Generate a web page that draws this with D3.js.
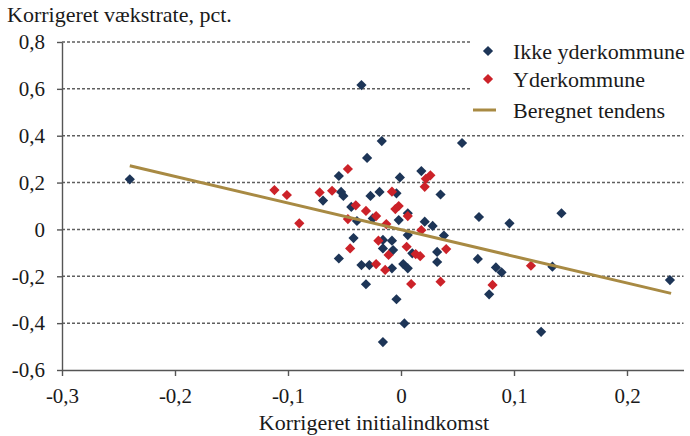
<!DOCTYPE html>
<html>
<head>
<meta charset="utf-8">
<script src="https://cdn.jsdelivr.net/npm/d3@7"></script>
<style>
  body { margin: 0; background: #fff; }
  text { font-family: "Liberation Serif", "Times New Roman", serif; fill: #1a1a1a; }
</style>
</head>
<body>
<div id="chart"></div>
<script>
// data: [initialindkomst, vækstrate]
var ikkeYder = [
  [-0.240, 0.214], [-0.035, 0.616], [-0.017, 0.377], [0.054, 0.369], [-0.030, 0.305],
  [-0.055, 0.228], [0.018, 0.249], [-0.001, 0.222], [-0.053, 0.160], [-0.051, 0.143],
  [-0.069, 0.123], [-0.027, 0.143], [-0.019, 0.160], [-0.004, 0.154], [0.035, 0.149],
  [-0.044, 0.096], [-0.039, 0.036], [-0.025, 0.047], [-0.002, 0.040], [0.006, 0.069],
  [0.021, 0.033], [0.028, 0.015], [0.006, -0.024], [0.038, -0.026], [-0.042, -0.037],
  [-0.008, -0.048], [-0.016, -0.081], [-0.007, -0.088], [0.010, -0.102], [0.032, -0.096],
  [0.032, -0.139], [-0.055, -0.124], [-0.035, -0.152], [-0.028, -0.152], [-0.008, -0.166],
  [0.002, -0.148], [0.006, -0.166], [-0.031, -0.234], [-0.004, -0.298], [0.003, -0.401],
  [-0.016, -0.481], [0.069, 0.053], [0.096, 0.026], [0.142, 0.069], [0.068, -0.126],
  [0.084, -0.162], [0.089, -0.183], [0.134, -0.159], [0.078, -0.277], [0.124, -0.437],
  [0.238, -0.216], [-0.016, -0.045]
];

var yder = [
  [-0.112, 0.168], [-0.101, 0.147], [-0.090, 0.026], [-0.047, 0.258], [0.026, 0.231],
  [0.022, 0.216], [0.021, 0.182], [-0.072, 0.158], [-0.061, 0.165], [-0.008, 0.161],
  [-0.040, 0.103], [-0.031, 0.079], [-0.005, 0.087], [-0.002, 0.100], [0.006, 0.057],
  [-0.022, 0.057], [-0.047, 0.044], [-0.013, 0.023], [0.018, -0.003], [-0.045, -0.081],
  [-0.020, -0.048], [0.005, -0.074], [-0.011, -0.109], [0.013, -0.105], [0.017, -0.114],
  [0.040, -0.084], [-0.022, -0.148], [-0.014, -0.173], [0.009, -0.233], [0.035, -0.223],
  [0.115, -0.155], [0.081, -0.237]
];

var tendens = [[-0.240, 0.272], [0.239, -0.273]];

var xTicks = [-0.3, -0.2, -0.1, 0, 0.1, 0.2];
var yTicks = [-0.6, -0.4, -0.2, 0, 0.2, 0.4, 0.6, 0.8];
var seriesNames = ["Ikke yderkommune", "Yderkommune", "Beregnet tendens"];

var width = 690, height = 436;
var blue = "#1d3557", red = "#cc2229", gold = "#a88a43";

var svg = d3.select("#chart").append("svg")
    .attr("width", width)
    .attr("height", height);

var x = d3.scaleLinear().domain([-0.3, 0.25]).range([62, 683.5]);
var y = d3.scaleLinear().domain([-0.6, 0.8]).range([370, 42]);

var loc = d3.formatLocale({decimal: ",", thousands: ".", grouping: [3], currency: ["", ""], minus: "-"});
var f1 = loc.format(".1f");
var fmt = function(d) { return d === 0 ? "0" : f1(d); };

// gridlines (dashed)
svg.append("g")
  .selectAll("line")
  .data(yTicks.filter(function(d) { return d > -0.6; }))
  .enter().append("line")
    .attr("x1", x(-0.3))
    .attr("x2", x(0.25))
    .attr("y1", function(d) { return y(d); })
    .attr("y2", function(d) { return y(d); })
    .style("stroke", "#5f5f5f")
    .style("stroke-width", 1.5)
    .style("stroke-dasharray", "3,2");

// axes
var xAxis = d3.axisBottom(x).tickValues(xTicks).tickFormat(fmt).tickSize(6).tickSizeOuter(0);
var yAxis = d3.axisLeft(y).tickValues(yTicks).tickFormat(fmt).tickSize(5).tickSizeOuter(0);

var gx = svg.append("g")
    .attr("transform", "translate(0," + y(-0.6) + ")")
    .call(xAxis);
var gy = svg.append("g")
    .attr("transform", "translate(" + x(-0.3) + ",0)")
    .call(yAxis);

[gx, gy].forEach(function(g) {
  g.selectAll(".domain").style("stroke", "#555").style("stroke-width", 1.4);
  g.selectAll(".tick line").style("stroke", "#555").style("stroke-width", 1.4);
  g.selectAll("text")
    .style("font-family", "Liberation Serif, serif")
    .style("font-size", "21px")
    .style("fill", "#1a1a1a");
});
gx.selectAll(".tick text").attr("dy", "1.15em");
gy.selectAll(".tick text").attr("x", -17);

// titles
svg.append("text")
    .attr("x", 7)
    .attr("y", 22)
    .style("font-size", "22px")
    .text("Korrigeret vækstrate, pct.");

svg.append("text")
    .attr("x", 374)
    .attr("y", 430)
    .attr("text-anchor", "middle")
    .style("font-size", "22px")
    .text("Korrigeret initialindkomst");

// trend line
var line = d3.line()
    .x(function(d) { return x(d[0]); })
    .y(function(d) { return y(d[1]); });

var diamond = d3.symbol().type(d3.symbolSquare).size(52);

function drawPoints(data, color) {
  svg.append("g")
    .selectAll("path")
    .data(data)
    .enter().append("path")
      .attr("d", diamond)
      .attr("transform", function(d) { return "translate(" + x(d[0]) + "," + y(d[1]) + ") rotate(45)"; })
      .style("fill", color);
}

drawPoints(ikkeYder, blue);
drawPoints(yder, red);

svg.append("path")
    .datum(tendens)
    .attr("d", line)
    .style("fill", "none")
    .style("stroke", gold)
    .style("stroke-width", 3);

// legend
var legend = svg.append("g");
legend.append("rect")
    .attr("x", 470)
    .attr("y", 36)
    .attr("width", 220)
    .attr("height", 88)
    .style("fill", "#fff");

var rows = [
  {name: seriesNames[0], color: blue, type: "dot", cy: 51},
  {name: seriesNames[1], color: red, type: "dot", cy: 79},
  {name: seriesNames[2], color: gold, type: "line", cy: 110}
];
rows.forEach(function(r) {
  if (r.type === "dot") {
    legend.append("path")
      .attr("d", diamond)
      .attr("transform", "translate(488," + r.cy + ") rotate(45)")
      .style("fill", r.color);
  } else {
    legend.append("line")
      .attr("x1", 473).attr("x2", 496)
      .attr("y1", r.cy).attr("y2", r.cy)
      .style("stroke", r.color)
      .style("stroke-width", 3);
  }
  legend.append("text")
    .attr("x", 513)
    .attr("y", r.cy)
    .attr("dy", "0.35em")
    .style("font-size", "22px")
    .text(r.name);
});
</script>
</body>
</html>
